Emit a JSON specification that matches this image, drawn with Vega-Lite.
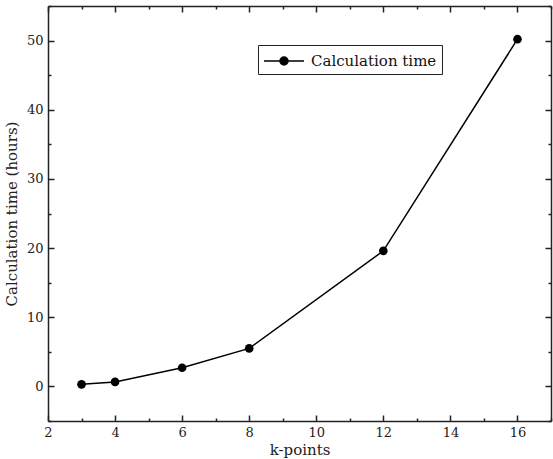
{
  "$schema": "https://vega.github.io/schema/vega-lite/v6.json",
  "width": 503,
  "height": 415,
  "autosize": {"type": "none"},
  "padding": {"left": 48, "top": 6, "right": 2, "bottom": 38},
  "background": "white",
  "config": {
    "font": "DejaVu Serif",
    "view": {"stroke": null},
    "axis": {
      "labelFont": "DejaVu Serif",
      "titleFont": "DejaVu Serif",
      "labelFontSize": 13,
      "titleFontSize": 15,
      "titleFontWeight": "normal",
      "labelColor": "#222",
      "titleColor": "#222",
      "domainColor": "#222",
      "tickColor": "#222",
      "domainWidth": 1.5,
      "tickWidth": 1.5,
      "grid": false
    }
  },
  "data": {
    "values": [
      {"k": 3, "t": 0.3},
      {"k": 4, "t": 0.65},
      {"k": 6, "t": 2.7},
      {"k": 8, "t": 5.5},
      {"k": 12, "t": 19.6},
      {"k": 16, "t": 50.2}
    ]
  },
  "resolve": {"axis": {"x": "independent", "y": "independent"}},
  "layer": [
    {
      "mark": {"type": "line", "strokeWidth": 1.5},
      "encoding": {
        "x": {"field": "k", "type": "quantitative",
          "scale": {"domain": [2, 17], "nice": false, "zero": false},
          "axis": {"orient": "bottom", "title": "k-points", "values": [2, 4, 6, 8, 10, 12, 14, 16], "tickSize": -6, "labelPadding": 11, "titlePadding": 3, "labelFlush": false}},
        "y": {"field": "t", "type": "quantitative",
          "scale": {"domain": [-5, 55], "nice": false, "zero": false},
          "axis": {"orient": "left", "title": "Calculation time (hours)", "values": [0, 10, 20, 30, 40, 50], "tickSize": -6, "labelPadding": 11, "titlePadding": 7, "labelFlush": false}},
        "color": {"datum": "Calculation time", "type": "nominal",
          "scale": {"range": ["black"]},
          "legend": {
            "title": null,
            "orient": "none",
            "legendX": 210,
            "legendY": 39,
            "strokeColor": "#222",
            "padding": 5,
            "symbolType": "M -1 0 L 3 0 M 1.4 0 A 0.4 0.4 0 1 1 0.6 0 A 0.4 0.4 0 1 1 1.4 0 Z",
            "symbolSize": 400,
            "symbolStrokeWidth": 1.5,
            "symbolFillColor": "black",
            "symbolStrokeColor": "black",
            "labelFont": "DejaVu Serif",
            "labelFontSize": 15,
            "labelColor": "#111",
            "labelOffset": 26,
            "encode": {"symbols": {"update": {"fill": {"value": "black"}, "stroke": {"value": "black"}, "opacity": {"value": 1}}}}
          }}
      }
    },
    {
      "mark": {"type": "point", "filled": true, "size": 75, "color": "black", "opacity": 1},
      "encoding": {
        "x": {"field": "k", "type": "quantitative", "axis": null},
        "y": {"field": "t", "type": "quantitative", "axis": null}
      }
    },
    {
      "mark": {"type": "point", "opacity": 0},
      "encoding": {
        "x": {"field": "k", "type": "quantitative",
          "axis": {"orient": "bottom", "title": null, "values": [3, 5, 7, 9, 11, 13, 15, 17], "labels": false, "domain": false, "tickSize": -3}},
        "y": {"field": "t", "type": "quantitative",
          "axis": {"orient": "left", "title": null, "values": [-5, 5, 15, 25, 35, 45, 55], "labels": false, "domain": false, "tickSize": -3}}
      }
    },
    {
      "mark": {"type": "point", "opacity": 0},
      "encoding": {
        "x": {"field": "k", "type": "quantitative",
          "axis": {"orient": "top", "title": null, "values": [2, 4, 6, 8, 10, 12, 14, 16], "labels": false, "tickSize": -6}},
        "y": {"field": "t", "type": "quantitative",
          "axis": {"orient": "right", "title": null, "values": [0, 10, 20, 30, 40, 50], "labels": false, "tickSize": -6}}
      }
    },
    {
      "mark": {"type": "point", "opacity": 0},
      "encoding": {
        "x": {"field": "k", "type": "quantitative",
          "axis": {"orient": "top", "title": null, "values": [3, 5, 7, 9, 11, 13, 15, 17], "labels": false, "domain": false, "tickSize": -3}},
        "y": {"field": "t", "type": "quantitative",
          "axis": {"orient": "right", "title": null, "values": [-5, 5, 15, 25, 35, 45, 55], "labels": false, "domain": false, "tickSize": -3}}
      }
    }
  ]
}
